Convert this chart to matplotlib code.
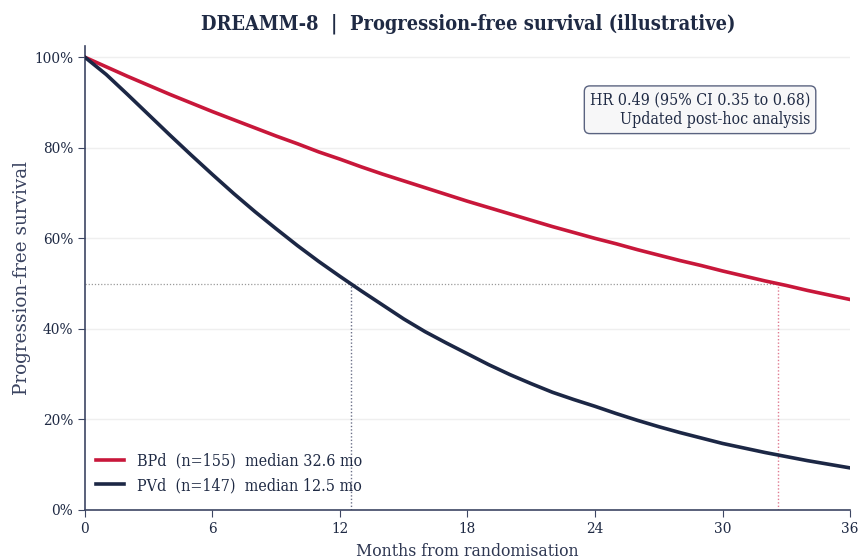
import matplotlib
matplotlib.use("Agg")
import matplotlib.pyplot as plt
import matplotlib.ticker as mticker
from matplotlib import font_manager

# ---------------------------------------------
# Data (monthly, 0..36 months)
months = list(range(0, 37))

bpd_surv = [1.000, 0.979, 0.958, 0.938, 0.918, 0.899, 0.880, 0.862, 0.844, 0.826,
            0.809, 0.791, 0.775, 0.758, 0.742, 0.727, 0.712, 0.697, 0.682, 0.668,
            0.654, 0.640, 0.626, 0.613, 0.600, 0.588, 0.575, 0.563, 0.551, 0.540,
            0.528, 0.517, 0.506, 0.496, 0.485, 0.475, 0.465]

pvd_surv = [1.000, 0.962, 0.918, 0.873, 0.828, 0.784, 0.741, 0.699, 0.659, 0.621,
            0.584, 0.549, 0.516, 0.484, 0.453, 0.422, 0.394, 0.369, 0.345, 0.321,
            0.299, 0.279, 0.260, 0.244, 0.229, 0.213, 0.198, 0.184, 0.171, 0.159,
            0.147, 0.137, 0.127, 0.118, 0.109, 0.101, 0.093]

arm_names = ["BPd", "PVd"]
arm_n = [155, 147]
arm_median = [32.6, 12.5]

x_ticks = [0, 6, 12, 18, 24, 30, 36]
y_ticks = [0, 0.2, 0.4, 0.6, 0.8, 1.0]

hr_text = "HR 0.49 (95% CI 0.35 to 0.68)\nUpdated post-hoc analysis"
title = "DREAMM-8  |  Progression-free survival (illustrative)"

# ---------------------------------------------
red = "#C8173A"
navy = "#1C2745"
ink = "#1F2A44"

# condensed serif if the system has it, plain DejaVu Serif otherwise
names = [f.name for f in font_manager.fontManager.ttflist]
if "DejaVu Serif Condensed" in names:
    plt.rcParams["font.family"] = ["DejaVu Serif Condensed"]
else:
    plt.rcParams["font.family"] = ["DejaVu Serif"]
    plt.rcParams["font.stretch"] = "condensed"

fig = plt.figure(figsize=(8.6, 5.6), dpi=100)
ax = fig.add_axes([0.0988, 0.0893, 0.8896, 0.8286])

ax.plot(months, bpd_surv, color=red, lw=2.6, zorder=3,
        label=f"{arm_names[0]}  (n={arm_n[0]})  median {arm_median[0]} mo")
ax.plot(months, pvd_surv, color=navy, lw=2.6, zorder=3,
        label=f"{arm_names[1]}  (n={arm_n[1]})  median {arm_median[1]} mo")

# median guide lines
ax.plot([0, arm_median[0]], [0.5, 0.5], color="#9a9a9a", lw=0.9, ls=(0, (1, 1.5)), zorder=2)
ax.plot([arm_median[1], arm_median[1]], [0, 0.5], color="#6b7088", lw=1.0, ls=(0, (1, 1.5)), zorder=2)
ax.plot([arm_median[0], arm_median[0]], [0, 0.5], color="#E07A90", lw=1.0, ls=(0, (1, 1.5)), zorder=2)

ax.set_xlim(0, 36)
ax.set_ylim(0, 1.025)
ax.set_xticks(x_ticks)
ax.set_yticks(y_ticks)
ax.yaxis.set_major_formatter(mticker.PercentFormatter(1.0, decimals=0))
ax.grid(axis="y", color="#EFEFEF", lw=1.0)
ax.set_axisbelow(True)

for s in ["top", "right"]:
    ax.spines[s].set_visible(False)
for s in ["left", "bottom"]:
    ax.spines[s].set_color("#3D4663")
    ax.spines[s].set_linewidth(1.2)
ax.tick_params(colors="#3D4663", labelcolor=ink, labelsize=11, length=5)

ax.set_xlabel("Months from randomisation", fontsize=12.6, color="#2E3752", labelpad=5)
ax.set_ylabel("Progression-free survival", fontsize=13.2, color="#3A4360", labelpad=2,
              fontfamily="DejaVu Serif", fontstretch="normal")
fig.suptitle(title, fontsize=14.3, fontweight="bold", color=ink, x=0.544, y=0.975)

ax.text(0.948, 0.902, hr_text, transform=ax.transAxes, ha="right", va="top",
        multialignment="right", fontsize=11.4, color=ink,
        bbox=dict(boxstyle="round,pad=0.35", fc="#F7F7F8", ec="#5A6380", lw=1.0))

leg = ax.legend(loc="lower left", frameon=False, fontsize=11.5, handlelength=1.75,
                handletextpad=0.8, borderaxespad=0.6, labelspacing=0.45,
                bbox_to_anchor=(-0.0065, 0.0))
for t in leg.get_texts():
    t.set_color(ink)

fig.savefig("out.png", dpi=100)
